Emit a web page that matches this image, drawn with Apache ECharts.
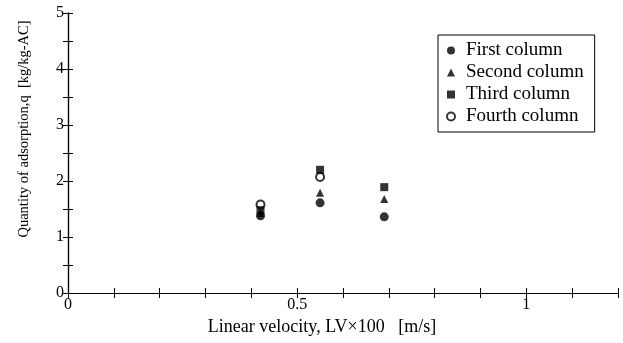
<!DOCTYPE html>
<html>
<head>
<meta charset="utf-8">
<script src="https://cdn.jsdelivr.net/npm/echarts@6/dist/echarts.min.js"></script>
<style>
html,body{margin:0;padding:0;background:#fff;}
#c{width:623px;height:343px;}
</style>
</head>
<body>
<div id="c"></div>
<script>
const xValues = [0.42, 0.55, 0.69];
const firstColumn = [1.38, 1.61, 1.36];
const secondColumn = [1.43, 1.79, 1.68];
const thirdColumn = [1.48, 2.2, 1.89];
const fourthColumnX = [0.42, 0.55];
const fourthColumn = [1.58, 2.07];
const xTickLabels = ['0', '0.5', '1'];
const yTickLabels = ['0', '1', '2', '3', '4', '5'];
const seriesNames = ['First column', 'Second column', 'Third column', 'Fourth column'];

const font = 'Liberation Serif';
const chart = echarts.init(document.getElementById('c'));

function pairs(xs, ys) { return xs.map((x, i) => [x, ys[i]]); }

const axisLine = { show: true, lineStyle: { color: '#000', width: 1.2 } };
const tick = { show: true, inside: true, length: 5, lineStyle: { color: '#000', width: 1 } };

chart.setOption({
  animation: false,
  backgroundColor: '#fff',
  grid: { left: 68, right: 5, top: 13, bottom: 50 },
  legend: {
    orient: 'vertical',
    left: 438, top: 35,
    padding: [6, 11, 6, 8],
    itemGap: 3,
    itemWidth: 8, itemHeight: 8,
    borderColor: '#000', borderWidth: 1,
    textStyle: { fontFamily: font, fontSize: 19, color: '#000', padding: [0, 0, 0, 6] },
    data: [
      { name: seriesNames[0], icon: 'circle' },
      { name: seriesNames[1], icon: 'triangle' },
      { name: seriesNames[2], icon: 'rect' },
      { name: seriesNames[3], icon: 'emptyCircle' }
    ]
  },
  xAxis: [{
    type: 'value', min: 0, max: 1.2, interval: 0.1,
    axisLine: axisLine, axisTick: tick, splitLine: { show: false },
    axisLabel: {
      fontFamily: font, fontSize: 16, color: '#000', margin: 4,
      formatter: v => {
        const s = String(Math.round(v * 10) / 10);
        return xTickLabels.indexOf(s) >= 0 ? s : '';
      }
    },
    name: 'Linear velocity, LV\u00d7100   [m/s]',
    nameLocation: 'middle', nameGap: 20,
    nameTextStyle: { fontFamily: font, fontSize: 18, color: '#000', padding: [0, 42, 0, 0] }
  }, {
    type: 'value', position: 'top', min: 0, max: 1.2, interval: 0.1,
    axisLine: axisLine, axisTick: tick, axisLabel: { show: false }, splitLine: { show: false }
  }],
  yAxis: [{
    type: 'value', min: 0, max: 5, interval: 0.5,
    axisLine: axisLine, axisTick: tick, splitLine: { show: false },
    axisLabel: {
      fontFamily: font, fontSize: 16, color: '#000', margin: 4,
      formatter: v => {
        const s = String(Math.round(v * 10) / 10);
        return yTickLabels.indexOf(s) >= 0 ? s : '';
      }
    },
    name: 'Quantity of adsorption,q  [kg/kg-AC]',
    nameLocation: 'middle', nameGap: 36,
    nameTextStyle: { fontFamily: font, fontSize: 14.5, color: '#000', padding: [0, 0, 0, 48] }
  }, {
    type: 'value', position: 'right', min: 0, max: 5, interval: 0.5,
    axisLine: axisLine, axisTick: tick, axisLabel: { show: false }, splitLine: { show: false }
  }],
  series: [
    { name: seriesNames[3], type: 'scatter', symbol: 'emptyCircle', symbolSize: 8, z: 2,
      itemStyle: { color: '#000', borderColor: '#000', borderWidth: 1.3 },
      data: pairs(fourthColumnX, fourthColumn) },
    { name: seriesNames[0], type: 'scatter', symbol: 'circle', symbolSize: 9, z: 3,
      itemStyle: { color: '#000' }, data: pairs(xValues, firstColumn) },
    { name: seriesNames[1], type: 'scatter', symbol: 'triangle', symbolSize: 8, z: 3,
      itemStyle: { color: '#000' }, data: pairs(xValues, secondColumn) },
    { name: seriesNames[2], type: 'scatter', symbol: 'rect', symbolSize: 8, z: 4,
      itemStyle: { color: '#000' }, data: pairs(xValues, thirdColumn) }
  ]
});
</script>
</body>
</html>
